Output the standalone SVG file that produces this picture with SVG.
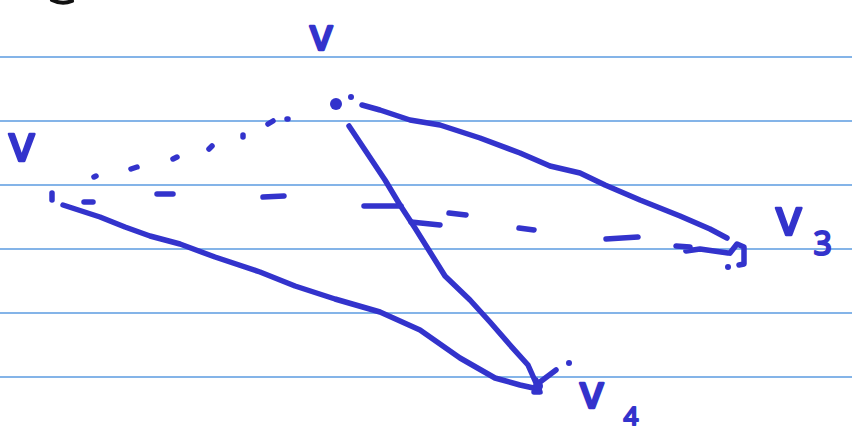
<svg xmlns="http://www.w3.org/2000/svg" width="852" height="434" viewBox="0 0 852 434">
<style>
.rule{stroke:#5b9be0;stroke-width:1.3;fill:none}
.ink{stroke:#3333cc;stroke-width:5.5;fill:none;stroke-linecap:round;stroke-linejoin:round}
.blob{fill:#3333cc}
.lbl{font-family:"Noto Sans","DejaVu Sans",sans-serif;fill:#3333cc;stroke:#3333cc;stroke-width:2.5;stroke-linejoin:round}
.sub{font-family:"Noto Sans","DejaVu Sans",sans-serif;fill:#3333cc;stroke:#3333cc;stroke-width:2;stroke-linejoin:round}
</style>
<rect width="852" height="434" fill="#ffffff"/>
<g id="rules">
<line class="rule" x1="0" y1="57" x2="852" y2="57"/>
<line class="rule" x1="0" y1="121" x2="852" y2="121"/>
<line class="rule" x1="0" y1="185" x2="852" y2="185"/>
<line class="rule" x1="0" y1="249" x2="852" y2="249"/>
<line class="rule" x1="0" y1="313" x2="852" y2="313"/>
<line class="rule" x1="0" y1="377" x2="852" y2="377"/>
</g>
<path d="M52 0 Q62 5 72 1" stroke="#111" stroke-width="4" fill="none" stroke-linecap="round"/>
<g id="connectors">
<path class="ink" d="M63 205 L100 217 L125 227 L150 236 L180 244 L215 257 L260 272 L295 286 L335 299 L380 312 L420 330 L460 358 L495 378 L520 385 L538 389"/>
<path class="ink" d="M349 126 L365 150 L385 180 L400 205 L415 228 L430 252 L445 276 L470 300 L490 322 L510 345 L528 365 L536 383"/>
<path class="ink" d="M362 105 L380 110 L410 120 L440 125 L480 138 L520 153 L550 166 L580 173 L605 185 L640 200 L680 216 L710 229 L727 238"/>
<g class="ink">
<path d="M94 177 L96 176"/>
<path d="M131 169 L137 167"/>
<path d="M173 159 L177 157"/>
<path d="M209 149 L212 146"/>
<path d="M243 135 L243 137"/>
<path d="M268 124 L273 121"/>
<path d="M287 119 L288 119"/>
<path d="M84 202 L93 202"/>
<path d="M157 194 L173 194"/>
<path d="M263 197 L284 196"/>
<path d="M364 206 L401 206"/>
<path d="M411 222 L440 225"/>
<path d="M449 213 L466 215"/>
<path d="M519 228 L534 230"/>
<path d="M606 239 L638 237"/>
<path d="M676 246 L690 247 L686 251 L700 249 L728 253"/>
</g>
</g>
<g id="v1">
<path class="ink" d="M52 193 L52 200" stroke-width="7"/>
<text class="lbl" x="9" y="161" font-size="50">v</text>
</g>
<g id="v2">
<circle class="blob" cx="336" cy="104" r="6"/>
<circle class="blob" cx="351" cy="97" r="3"/>
<text class="lbl" x="310" y="50" font-size="44">v</text>
</g>
<g id="v3">
<path class="ink" d="M730 253 L737 244 L744 247 L744 264 L739 265"/>
<circle class="blob" cx="728" cy="267" r="3"/>
<text class="lbl" x="776" y="235" font-size="50">v<tspan class="sub" font-size="32" dx="12" dy="20">3</tspan></text>
</g>
<g id="v4">
<path class="ink" d="M536 380 L540 392 L534 392 M540 382 L556 370"/>
<circle class="blob" cx="538" cy="386" r="5"/>
<circle class="blob" cx="569" cy="363" r="3"/>
<text class="lbl" x="580" y="408" font-size="46">v<tspan class="sub" font-size="26" dx="20" dy="17">4</tspan></text>
</g>
</svg>
